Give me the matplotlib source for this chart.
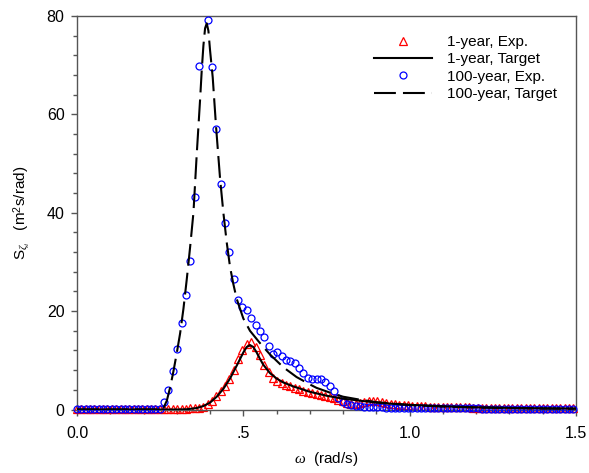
import numpy as np
import matplotlib
matplotlib.use('Agg')
import matplotlib.pyplot as plt
from matplotlib.ticker import MultipleLocator
from matplotlib.transforms import Bbox, TransformedBbox

plt.rcParams['font.family'] = ['Liberation Sans', 'DejaVu Sans']
plt.rcParams['mathtext.fontset'] = 'custom'
plt.rcParams['mathtext.rm'] = 'Liberation Sans'
plt.rcParams['mathtext.it'] = 'Liberation Serif:italic'

# --------------------------------------------------
# Data
# --------------------------------------------------
# measured spectra are sampled every d_omega = pi/240 rad/s
omega_exp = np.arange(115) * np.pi / 240

s_1yr_exp = [
    0.2, 0.2, 0.2, 0.2, 0.2, 0.2, 0.2, 0.2, 0.2, 0.2,
    0.2, 0.2, 0.2, 0.2, 0.2, 0.2, 0.2, 0.2, 0.2, 0.2,
    0.2, 0.2, 0.2, 0.2, 0.2, 0.2, 0.25, 0.3, 0.4, 0.6,
    1.2, 1.8, 2.7, 3.8, 4.8, 6.3, 8.0, 10.2, 12.0, 13.4,
    13.8, 12.8, 11.0, 9.0, 7.6, 6.5, 5.8, 5.3, 5.0, 4.7,
    4.4, 4.1, 3.8, 3.6, 3.3, 3.1, 2.9, 2.7, 2.5, 2.3,
    2.0, 1.7, 1.4, 1.2, 1.2, 1.4, 1.6, 1.8, 1.8, 1.7,
    1.5, 1.3, 1.2, 1.1, 1.0, 0.9, 0.9, 0.8, 0.8, 0.7,
    0.7, 0.6, 0.6, 0.6, 0.6, 0.6, 0.5, 0.5, 0.5, 0.5,
    0.5, 0.4, 0.4, 0.4, 0.4, 0.4, 0.4, 0.4, 0.4, 0.4,
    0.4, 0.3, 0.3, 0.3, 0.3, 0.3, 0.3, 0.3, 0.3, 0.3,
    0.3, 0.3, 0.3, 0.3, 0.3,
]

s_100yr_exp = [
    0.2, 0.2, 0.2, 0.2, 0.2, 0.2, 0.2, 0.2, 0.2, 0.2,
    0.2, 0.2, 0.2, 0.2, 0.2, 0.2, 0.2, 0.2, 0.2, 0.2,
    1.5, 4.0, 7.8, 12.3, 17.6, 23.2, 30.2, 43.3, 69.8, 84.0,
    79.2, 69.6, 57.1, 45.9, 38.0, 32.0, 26.5, 22.2, 20.8, 20.2,
    18.7, 17.1, 15.9, 14.7, 12.9, 11.3, 11.7, 10.8, 10.1, 9.8,
    9.4, 8.5, 7.5, 6.5, 6.1, 6.1, 6.1, 5.6, 4.7, 3.7,
    2.4, 1.6, 1.1, 0.9, 0.8, 0.7, 0.6, 0.55, 0.5, 0.45,
    0.45, 0.4, 0.4, 0.4, 0.35, 0.35, 0.35, 0.3, 0.3, 0.3,
    0.3, 0.3, 0.3, 0.3, 0.3, 0.25, 0.25, 0.25, 0.25, 0.25,
    0.25, 0.25, 0.25, 0.2, 0.2, 0.2, 0.2, 0.2, 0.2, 0.2,
    0.2, 0.2, 0.2, 0.2, 0.2, 0.2, 0.2, 0.2, 0.2, 0.2,
    0.2, 0.2, 0.2, 0.2, 0.2,
]

omega_1yr_tgt = [0.0, 0.30, 0.33, 0.36, 0.38, 0.40, 0.42, 0.44, 0.46, 0.48,
                 0.50, 0.51, 0.52, 0.53, 0.54, 0.55, 0.56, 0.58, 0.60, 0.62,
                 0.65, 0.70, 0.75, 0.80, 0.85, 0.90, 0.95, 1.0, 1.1, 1.2,
                 1.3, 1.4, 1.5]
s_1yr_tgt = [0.0, 0.0, 0.05, 0.3, 0.7, 1.4, 2.6, 4.2, 6.3, 8.9,
             11.6, 12.7, 13.1, 12.7, 11.6, 10.3, 9.1, 7.4, 6.3, 5.5,
             4.7, 3.6, 2.8, 2.2, 1.8, 1.4, 1.15, 0.95, 0.65, 0.45,
             0.33, 0.25, 0.2]

omega_100yr_tgt = [0.0, 0.25, 0.26, 0.27, 0.28, 0.29, 0.30, 0.31, 0.32, 0.33,
                   0.34, 0.35, 0.36, 0.37, 0.375, 0.38, 0.385, 0.39, 0.395, 0.40,
                   0.408, 0.418, 0.43, 0.44, 0.45, 0.46, 0.47, 0.48, 0.50, 0.52,
                   0.55, 0.58, 0.62, 0.66, 0.70, 0.72, 0.77, 0.80, 0.85, 0.90,
                   1.0, 1.1, 1.2, 1.3, 1.4, 1.5]
s_100yr_tgt = [0.0, 0.0, 0.3, 1.8, 4.5, 7.8, 11.5, 15.5, 20.5, 26.5,
               33.0, 40.0, 52.0, 63.0, 69.0, 74.0, 77.5, 78.5, 77.0, 73.0,
               67.5, 57.5, 47.0, 40.0, 34.0, 29.0, 25.5, 22.5, 18.5, 16.0,
               13.5, 11.2, 8.6, 6.6, 5.1, 4.4, 3.2, 2.6, 2.0, 1.5,
               0.9, 0.6, 0.4, 0.3, 0.2, 0.15]

# --------------------------------------------------
# Figure
# --------------------------------------------------
fig = plt.figure(figsize=(5.89, 4.73), dpi=100)
ax = fig.add_axes([77 / 589, 1 - 409.5 / 473, 499 / 589, 393.5 / 473])

m1, = ax.plot(omega_exp, s_1yr_exp, ls='none', marker='^', ms=6,
              mfc='none', mec='#ff0000', mew=0.9, label='1-year, Exp.', zorder=2)
l1, = ax.plot(omega_1yr_tgt, s_1yr_tgt, color='black', lw=1.5,
              label='1-year, Target', zorder=4)
m2, = ax.plot(omega_exp, s_100yr_exp, ls='none', marker='o', ms=5,
              mfc='none', mec='#0000ff', mew=0.9, label='100-year, Exp.', zorder=3)
l2, = ax.plot(omega_100yr_tgt, s_100yr_tgt, color='black', lw=1.5,
              dashes=(10.5, 3.4), label='100-year, Target', zorder=4)

# markers on the zero line are drawn whole, but the top stays clipped
clip = TransformedBbox(Bbox([[-0.02, -0.03], [1.02, 1.0]]), ax.transAxes)
for art in (m1, m2):
    art.set_clip_box(clip)

ax.set_xlim(0, 1.5)
ax.set_ylim(0, 80)
ax.set_xticks([0, 0.5, 1.0, 1.5])
ax.set_xticklabels(['0.0', '.5', '1.0', '1.5'])
ax.xaxis.set_minor_locator(MultipleLocator(0.1))
ax.set_yticks([0, 20, 40, 60, 80])
ax.yaxis.set_minor_locator(MultipleLocator(4))
ax.tick_params(which='major', direction='out', length=4, width=1,
               color='#555555', labelsize=11.5)
ax.tick_params(axis='x', which='major', pad=8)
ax.tick_params(axis='y', which='major', pad=5)
ax.tick_params(which='minor', direction='out', length=3, width=1, color='#555555')
for sp in ax.spines.values():
    sp.set_color('#555555')
    sp.set_linewidth(1)

ax.set_xlabel(r'$\omega$  (rad/s)', fontsize=11, labelpad=6)
ax.set_ylabel(r'S$_{\zeta_i}$   (m$^2$s/rad)', fontsize=11, labelpad=10)

ax.legend(loc='upper left', bbox_to_anchor=(0.595, 0.952), frameon=False,
          fontsize=11, numpoints=1, handlelength=3.8, handletextpad=1.0,
          labelspacing=0.22, borderpad=0, borderaxespad=0)

fig.savefig('out.png', dpi=100)
